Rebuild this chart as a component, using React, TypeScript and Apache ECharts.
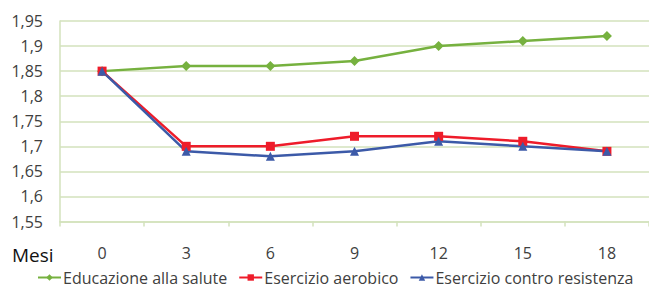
import React, { useEffect, useRef } from "react";
import * as echarts from "echarts";

const months = ["0", "3", "6", "9", "12", "15", "18"];
const educazione = [1.85, 1.86, 1.86, 1.87, 1.9, 1.91, 1.92];
const aerobico = [1.85, 1.7, 1.7, 1.72, 1.72, 1.71, 1.69];
const resistenza = [1.85, 1.69, 1.68, 1.69, 1.71, 1.7, 1.69];

const FONT = "'Open Sans', Lato, sans-serif";

export default function App() {
  const ref = useRef<HTMLDivElement>(null);
  useEffect(() => {
    document.body.style.margin = "0";
    const chart = echarts.init(ref.current!, null, { renderer: "svg" });
    const gridColor = "#d3e2bc";
    chart.setOption({
      animation: false,
      backgroundColor: "#ffffff",
      textStyle: { fontFamily: FONT },
      grid: { left: 60, top: 21, width: 591, height: 200.5, containLabel: false },
      xAxis: {
        type: "category",
        data: months,
        boundaryGap: true,
        axisLine: { show: true, lineStyle: { color: gridColor, width: 1.5 } },
        axisTick: { show: true, length: 5, lineStyle: { color: gridColor, width: 1.5 } },
        axisLabel: { color: "#404040", fontSize: 16, margin: 23, fontFamily: FONT },
        splitLine: { show: false },
      },
      yAxis: {
        type: "value",
        min: 1.55,
        max: 1.95,
        interval: 0.05,
        axisLine: { show: true, lineStyle: { color: gridColor, width: 1.5 } },
        axisTick: { show: false },
        axisLabel: {
          color: "#404040",
          fontSize: 16,
          margin: 17,
          fontFamily: FONT,
          formatter: (v: number) => String(Math.round(v * 100) / 100).replace(".", ","),
        },
        splitLine: { show: true, lineStyle: { color: gridColor, width: 1.5 } },
      },
      legend: {
        left: 37,
        top: 269,
        padding: 0,
        itemWidth: 23,
        itemHeight: 8,
        itemGap: 11,
        textStyle: {
          color: "#404040",
          fontSize: 16,
          lineHeight: 17,
          fontFamily: FONT,
          padding: [0, 0, 0, -3],
        },
        data: ["Educazione alla salute", "Esercizio aerobico", "Esercizio contro resistenza"],
      },
      graphic: [
        {
          type: "text",
          left: 12,
          top: 245,
          style: { text: "Mesi", fontSize: 19, fill: "#111111", fontFamily: FONT },
        },
      ],
      series: [
        {
          name: "Educazione alla salute",
          type: "line",
          data: educazione,
          symbol: "diamond",
          symbolSize: 10,
          itemStyle: { color: "#76b13f" },
          lineStyle: { color: "#76b13f", width: 2.5 },
        },
        {
          name: "Esercizio aerobico",
          type: "line",
          data: aerobico,
          symbol: "rect",
          symbolSize: 9,
          itemStyle: { color: "#ee1c2a" },
          lineStyle: { color: "#ee1c2a", width: 2.5 },
        },
        {
          name: "Esercizio contro resistenza",
          type: "line",
          data: resistenza,
          symbol: "triangle",
          symbolSize: 9,
          itemStyle: { color: "#3c5aa8" },
          lineStyle: { color: "#3c5aa8", width: 2.5 },
        },
      ],
    });
    return () => chart.dispose();
  }, []);
  return <div ref={ref} style={{ width: 649, height: 287 }} />;
}
